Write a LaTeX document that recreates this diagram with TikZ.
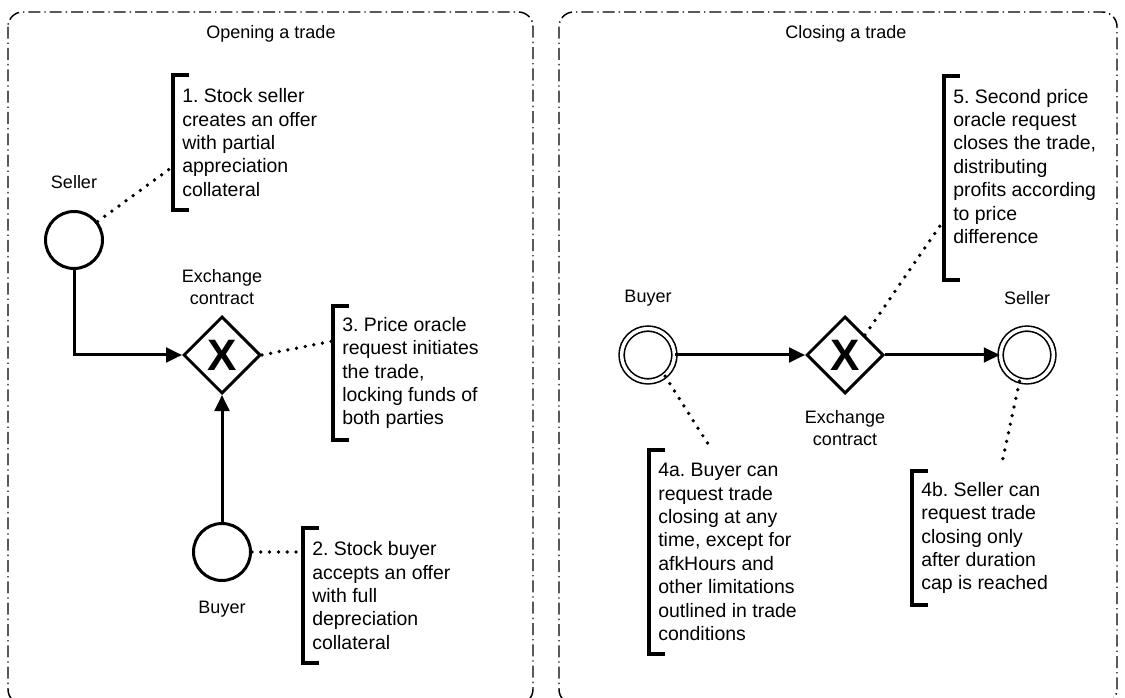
\documentclass[tikz,border=0pt]{standalone}
\usepackage{fontspec}
\setmainfont{Liberation Sans}
\usetikzlibrary{shapes.geometric, arrows.meta}
\frenchspacing

\tikzset{
  pool/.style={draw, line width=1.1pt, rounded corners=11pt, dash pattern=on 9pt off 3pt on 1pt off 3pt},
  startevt/.style={draw, circle, line width=2.25pt, minimum size=42.75pt, inner sep=0pt},
  endevt/.style={draw, circle, line width=1.2pt, double, double distance=2.6pt, minimum size=39.6pt, inner sep=0pt},
  gateway/.style={draw, diamond, aspect=1, line width=2.25pt, minimum width=57.75pt, minimum height=57.75pt, inner sep=0pt, font=\fontsize{33}{33}\selectfont\bfseries},
  lbl/.style={align=center, font=\fontsize{13.5}{16.2}\selectfont},
  note/.style={anchor=west, align=left, inner xsep=6.75pt, inner ysep=0pt, font=\fontsize{14.6}{17.55}\selectfont},
  flow/.style={line width=2.25pt, -{Triangle[length=12pt, width=11pt]}},
  assoc/.style={line width=2.8pt, line cap=round, dash pattern=on 0pt off 6.6pt},
  bracket/.style={line width=3pt}
}

\begin{document}
\begin{tikzpicture}[x=0.75pt, y=-0.75pt]
    \useasboundingbox (0,0) rectangle (1125,698);

    % pools
    \draw[pool] (8,12) rectangle (533,704);
    \draw[pool] (559,12) rectangle (1117,704);
    \node (opentitle) [lbl] at (271,34) {Opening a trade};
    \node (closetitle) [lbl] at (846,34) {Closing a trade};

    % opening a trade
    \node (seller1) [startevt] at (74,240) {};
    \node (gw1) [gateway] at (222,355) {X};
    \node (buyer1) [startevt] at (222,552) {};
    \node (seller1lbl) [lbl, above of=seller1, node distance=43.5pt] {Seller};
    \node (gw1lbl) [lbl, above of=gw1, node distance=51pt] {Exchange\\contract};
    \node (buyer1lbl) [lbl, below of=buyer1, node distance=42.75pt] {Buyer};

    \node (note1) [note, minimum height=101pt] at (173,142.5) {1. Stock seller\\creates an offer\\with partial\\appreciation\\collateral};
    \node (note3) [note, minimum height=100.5pt] at (333,373) {3. Price oracle\\request initiates\\the trade,\\locking funds of\\both parties};
    \node (note2) [note, minimum height=101pt] at (303,595.5) {2. Stock buyer\\accepts an offer\\with full\\depreciation\\collateral};

    \draw [flow] (seller1) |- (gw1);
    \draw [flow] (buyer1) -- (gw1);
    \draw [assoc] (seller1.38) -- ([yshift=-18pt]note1.west);
    \draw [assoc] (gw1.east) -- ([yshift=24pt]note3.west);
    \draw [assoc] (buyer1.east) -- (buyer1.east -| note2.west);

    % closing a trade
    \node (buyer2) [endevt] at (648,355) {};
    \node (gw2) [gateway] at (845,355) {X};
    \node (seller2) [endevt] at (1027,355) {};
    \node (buyer2lbl) [lbl, above of=buyer2, node distance=42.75pt] {Buyer};
    \node (gw2lbl) [lbl, below of=gw2, node distance=54.75pt] {Exchange\\contract};
    \node (seller2lbl) [lbl, above of=seller2, node distance=42.75pt] {Seller};

    \node (note5) [note, minimum height=153pt] at (944,178) {5. Second price\\oracle request\\closes the trade,\\distributing\\profits according\\to price\\difference\\ \mbox{}};
    \node (note4a) [note, minimum height=153pt] at (649,552) {4a. Buyer can\\request trade\\closing at any\\time, except for\\afkHours and\\other limitations\\outlined in trade\\conditions};
    \node (note4b) [note, minimum height=100.5pt] at (912,538) {4b. Seller can\\request trade\\closing only\\after duration\\cap is reached};

    \draw [flow] (buyer2) -- (gw2);
    \draw [flow] (gw2) -- (seller2);
    \draw [assoc] (gw2.north east) -- ([yshift=-31.5pt]note5.west);
    \draw [assoc] (buyer2.-51) -- ([xshift=47pt]note4a.north west);
    \draw [assoc] (seller2.-106) -- ([xshift=67.5pt,yshift=6pt]note4b.north west);

    % brackets of the notes
    \foreach \n in {note1,note2,note3,note4a,note4b,note5}
        \draw [bracket] ([xshift=12pt]\n.north west) -- (\n.north west) -- (\n.south west) -- ([xshift=12pt]\n.south west);
\end{tikzpicture}
\end{document}
